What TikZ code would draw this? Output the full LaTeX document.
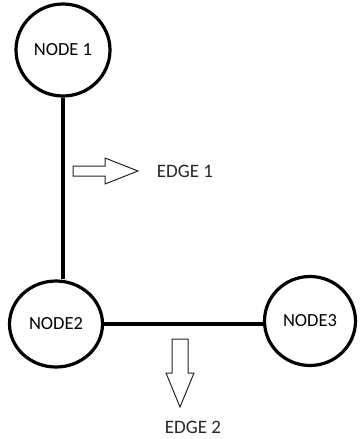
\documentclass[tikz,border=0pt]{standalone}
\usepackage{fontspec}
\setmainfont{Carlito}
\usetikzlibrary{shapes.geometric}
\begin{document}
\begin{tikzpicture}[x=1pt,y=-1pt,
  vert/.style={ellipse,draw=black,line width=3.2pt,inner sep=0pt,font=\fontsize{18.5}{21}\selectfont},
  link/.style={line width=3.2pt,draw=black},
  fat/.style={draw=black!85,line width=1pt,fill=white,line join=miter},
  lbl/.style={font=\fontsize{19}{21}\selectfont,text=black!85,inner sep=0pt}]
\useasboundingbox (0,0) rectangle (359,439);
\node[vert,minimum width=94pt,minimum height=92pt] (n1) at (63,50) {NODE 1};
\node[vert,minimum width=93pt,minimum height=86pt] (n2) at (56,324) {NODE2};
\node[vert,minimum width=91pt,minimum height=89pt] (n3) at (310,321) {NODE3};
\draw[link] (n1.south) -- (n1.south |- n2.north);
\draw[link] (n2.east) -- (n2.east -| n3.west);
% edge 1 arrow
\draw[fat] (73,166) -- (105,166) -- (105,158) -- (138,171) -- (105,184) -- (105,176) -- (73,176) -- cycle;
\node[lbl] (e1) at (185,171) {EDGE 1};
% edge 2 arrow
\draw[fat] (172,339) -- (188,339) -- (188,373) -- (194,373) -- (180,407) -- (166,373) -- (172,373) -- cycle;
\node[lbl] (e2) at (193,427) {EDGE 2};
\end{tikzpicture}
\end{document}
